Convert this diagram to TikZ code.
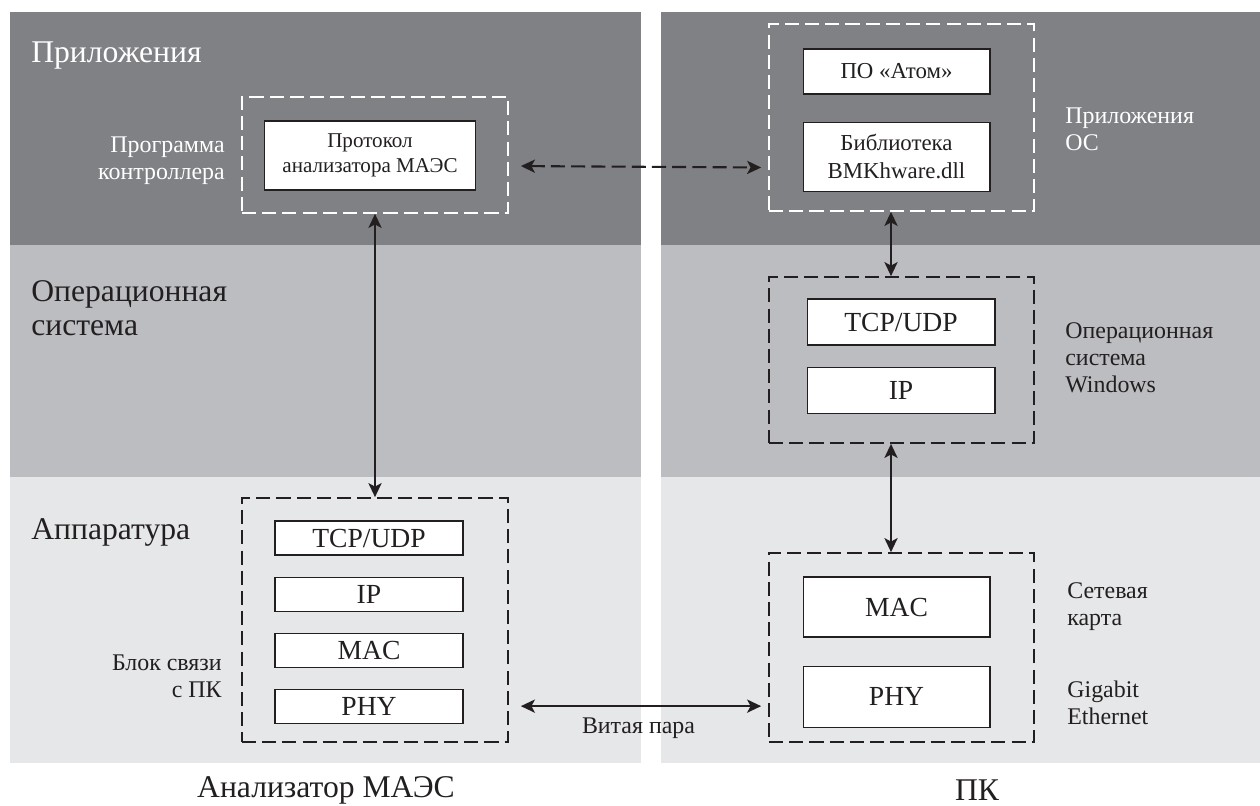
\documentclass[tikz,border=0pt]{standalone}
\usepackage{fontspec}
\setmainfont{Liberation Serif}
\usetikzlibrary{positioning,arrows.meta}
\definecolor{Dark}{RGB}{128,129,133}
\definecolor{Mid}{RGB}{188,189,192}
\definecolor{Pale}{RGB}{230,231,232}
\definecolor{Ink}{RGB}{35,31,32}

\begin{document}
\begin{tikzpicture}[x=.02cm,y=-.02cm,
 box/.style={draw=Ink,fill=white,line width=.6pt,inner sep=0pt,minimum width=3.74cm,align=center,text=Ink,font=\fontsize{12}{14.5}\selectfont},
 pbox/.style={box,minimum width=3.76cm,font=\fontsize{15.7}{18}\selectfont},
 grp/.style={draw=Ink,dash pattern=on 8pt off 3.5pt,line width=1pt,inner sep=0pt},
 wgrp/.style={grp,draw=white},
 side/.style={inner sep=0pt,text=Ink,font=\fontsize{13.6}{15.3}\selectfont},
 ttl/.style={inner sep=0pt,anchor=west,align=left,text=Ink,font=\fontsize{18}{19}\selectfont},
 arr/.style={{Stealth[length=8pt,width=7.5pt,inset=2pt]}-{Stealth[length=8pt,width=7.5pt,inset=2pt]},line width=1.2pt,Ink}]
\useasboundingbox (0,0) rectangle (1260,805);
% bands
\foreach \xa/\xb in {10/641,661/1260}{
 \fill[Dark] (\xa,12) rectangle (\xb,245);
 \fill[Mid] (\xa,245) rectangle (\xb,477);
 \fill[Pale] (\xa,477) rectangle (\xb,763);
}
\node[ttl,text=white] (tapp) at (31,56) {Приложения};
\node[ttl] (tos) at (31,308) {Операционная\\система};
\node[ttl] (thw) at (31,532) {Аппаратура};

% analyser
\node[wgrp,minimum width=5.32cm,minimum height=2.32cm] (prog) at (375,155) {};
\node[box,minimum width=4.22cm,minimum height=1.38cm] (proto) at (370,155.5) {Протокол\\анализатора МАЭС};
\node[side,text=white,anchor=east,align=right] (progl) at (225,161) {Программа\\контроллера};
\node[grp,minimum width=5.32cm,minimum height=4.88cm] (blk) at (375,620) {};
\node[pbox,minimum height=.68cm] (tcpL) at (369,538) {TCP/UDP};
\node[pbox,minimum height=.68cm,below=.42cm of tcpL] (ipL) {IP};
\node[pbox,minimum height=.68cm,below=.42cm of ipL] (macL) {MAC};
\node[pbox,minimum height=.68cm,below=.42cm of macL] (phyL) {PHY};
\node[side,anchor=east,align=right] (blkl) at (222,676) {Блок связи\\с ПК};
\node[font=\fontsize{18}{20}\selectfont,text=Ink] (dev) at (326,790) {Анализатор МАЭС};

% PC
\node[wgrp,minimum width=5.3cm,minimum height=3.74cm] (apps) at (901.5,117.5) {};
\node[box,minimum height=.9cm,font=\fontsize{13}{15.5}\selectfont] (atom) at (896.5,71.5) {ПО «Атом»};
\node[box,minimum height=1.38cm,font=\fontsize{13}{15.5}\selectfont,below=.54cm of atom] (bib) {Библиотека\\BMKhware.dll};
\node[side,text=white,anchor=west,align=left] (appsl) at (1065,129) {Приложения\\ОС};
\node[grp,minimum width=5.3cm,minimum height=3.32cm] (win) at (901.5,360) {};
\node[pbox,minimum height=.92cm] (tcpR) at (901,322) {TCP/UDP};
\node[pbox,minimum height=.92cm,below=.42cm of tcpR] (ipR) {IP};
\node[side,anchor=west,align=left] (winl) at (1065,358) {Операционная\\система\\Windows};
\node[grp,minimum width=5.3cm,minimum height=3.78cm] (nic) at (901.5,647.5) {};
\node[pbox,minimum width=3.74cm,minimum height=1.2cm] (macR) at (896.5,607) {MAC};
\node[pbox,minimum width=3.74cm,minimum height=1.22cm,below=.56cm of macR] (phyR) {PHY};
\node[side,anchor=west,align=left] (nicl) at (1067,607) {Сетевая\\карта};
\node[side,anchor=west,align=left] (gbel) at (1067,703) {Gigabit\\Ethernet};
\node[font=\fontsize{18}{20}\selectfont,text=Ink] (pc) at (977,790) {ПК};

% links
\draw[arr] (prog) -- (blk);
\draw[arr,dash pattern=on 8pt off 3.5pt,shorten <=.24cm,shorten >=.14cm] ([yshift=-.22cm]prog.east) -- ([yshift=-.22cm]bib -| apps.west);
\draw[arr] ([xshift=-.21cm]apps.south) -- ([xshift=-.21cm]win.north);
\draw[arr] ([xshift=-.21cm]win.south) -- ([xshift=-.21cm]nic.north);
\draw[arr,shorten <=.24cm,shorten >=.14cm] (phyL -| blk.east) -- (phyL -| nic.west)
 node[midway,below=.22cm,side] (twp) {Витая пара};
\end{tikzpicture}
\end{document}
